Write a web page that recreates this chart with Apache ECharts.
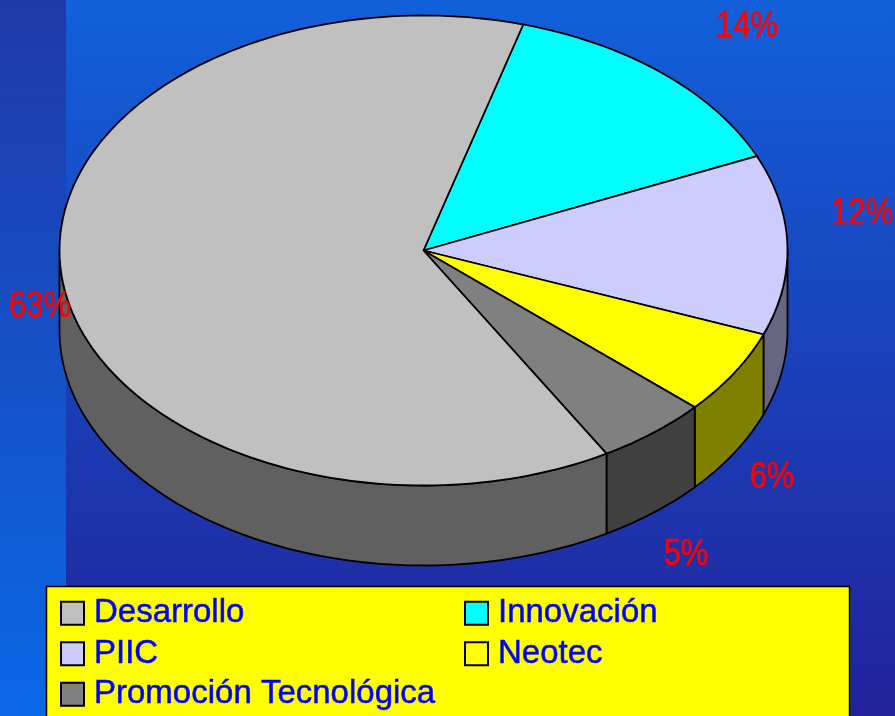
<!DOCTYPE html>
<html>
<head>
<meta charset="utf-8">
<style>
html, body { margin: 0; padding: 0; }
#main { width: 895px; height: 716px; }
</style>
<script src="https://cdn.jsdelivr.net/npm/echarts@6/dist/echarts.min.js"></script>
</head>
<body>
<div id="main"></div>
<script>
// slices, clockwise starting from the Desarrollo/Innovacion edge
const categories = ['Innovación', 'PIIC', 'Neotec', 'Promoción Tecnológica', 'Desarrollo']
const values = [14, 12.4, 5.8, 5, 62.8]
const topColors = ['#00ffff', '#ccccff', '#ffff00', '#808080', '#c0c0c0']
const sideColors = ['#008080', '#666680', '#808000', '#404040', '#606060']

// legend columns
const legendLeft = ['Desarrollo', 'PIIC', 'Promoción Tecnológica']
const legendRight = ['Innovación', 'Neotec']

// where the percent labels sit
const labelX = [747, 862, 772, 686, 40]
const labelY = [27, 214, 478, 555, 307]

const cx = 423.5
const cy = 250.5
const rx = 364
const ry = 235
const depth = 80
const startDeg = 15.9
const total = values.reduce((a, b) => a + b, 0)

// angle is clockwise from the top of the ellipse
function pt(deg, dy) {
  const a = deg * Math.PI / 180
  return [cx + rx * Math.sin(a), cy - ry * Math.cos(a) + dy]
}

function arc(from, to, dy) {
  const pts = []
  const n = Math.max(2, Math.ceil((to - from) / 1.5))
  for (let i = 0; i <= n; i++) {
    pts.push(pt(from + (to - from) * i / n, dy))
  }
  return pts
}

function sliceStart(index) {
  let sum = 0
  for (let i = 0; i < index; i++) {
    sum += values[i]
  }
  return startDeg + sum / total * 360
}

function renderSlice(params, api) {
  const i = params.seriesIndex
  const from = sliceStart(i)
  const to = from + api.value(0) / total * 360
  const children = []
  const line = { stroke: '#000', lineWidth: 1.8 }

  // only the part facing the viewer has a wall
  const wallFrom = Math.max(from, 90)
  const wallTo = Math.min(to, 270)
  if (wallTo > wallFrom) {
    const wall = arc(wallFrom, wallTo, 0).concat(arc(wallFrom, wallTo, depth).reverse())
    children.push({
      type: 'polygon',
      shape: { points: wall },
      style: { fill: sideColors[i], ...line }
    })
  }
  children.push({
    type: 'polygon',
    shape: { points: [[cx, cy]].concat(arc(from, to, 0)) },
    style: { fill: topColors[i], ...line }
  })
  // the original font is condensed, none is installed so squeeze it
  children.push({
    type: 'text',
    z2: 50,
    x: labelX[i],
    y: labelY[i],
    scaleX: 0.86,
    style: {
      text: Math.round(api.value(0)) + '%',
      align: 'center',
      verticalAlign: 'middle',
      fill: '#ff0000',
      stroke: '#ff0000',
      lineWidth: 0.5,
      font: '36px "Liberation Sans", sans-serif'
    }
  })
  return { type: 'group', children: children }
}

const legendBase = {
  orient: 'vertical',
  top: 593,
  icon: 'rect',
  itemWidth: 23,
  itemHeight: 23,
  itemGap: 0,
  selectedMode: false,
  textStyle: {
    color: '#0000ff',
    fontSize: 33,
    lineHeight: 35.5,
    padding: [5, 0, 0, 5],
    textBorderColor: '#0000ff',
    textBorderWidth: 0.5,
    fontFamily: '"Liberation Sans", sans-serif'
  },
  padding: 0
}

const chart = echarts.init(document.getElementById('main'))
chart.setOption({
  animation: false,
  graphic: [
    {
      type: 'rect',
      z: -10,
      shape: { x: 0, y: 0, width: 895, height: 716 },
      style: {
        fill: new echarts.graphic.LinearGradient(0, 0, 0, 1, [
          { offset: 0, color: '#1160da' },
          { offset: 1, color: '#22229a' }
        ])
      }
    },
    {
      type: 'rect',
      z: -9,
      shape: { x: 0, y: 0, width: 66, height: 716 },
      style: {
        fill: new echarts.graphic.LinearGradient(0, 0, 0, 1, [
          { offset: 0, color: '#2039a8' },
          { offset: 1, color: '#0a68e6' }
        ])
      }
    },
    {
      type: 'rect',
      z: -8,
      shape: { x: 46.5, y: 586.5, width: 803, height: 140 },
      style: { fill: '#ffff00', stroke: '#000', lineWidth: 1.5 }
    }
  ],
  legend: [
    { ...legendBase, left: 60, data: legendLeft },
    { ...legendBase, left: 464, data: legendRight }
  ],
  series: categories.map((name, i) => ({
    type: 'custom',
    name: name,
    coordinateSystem: 'none',
    renderItem: renderSlice,
    silent: true,
    itemStyle: { color: topColors[i], borderColor: '#000', borderWidth: 1.5 },
    data: [[values[i]]]
  }))
})
</script>
</body>
</html>
